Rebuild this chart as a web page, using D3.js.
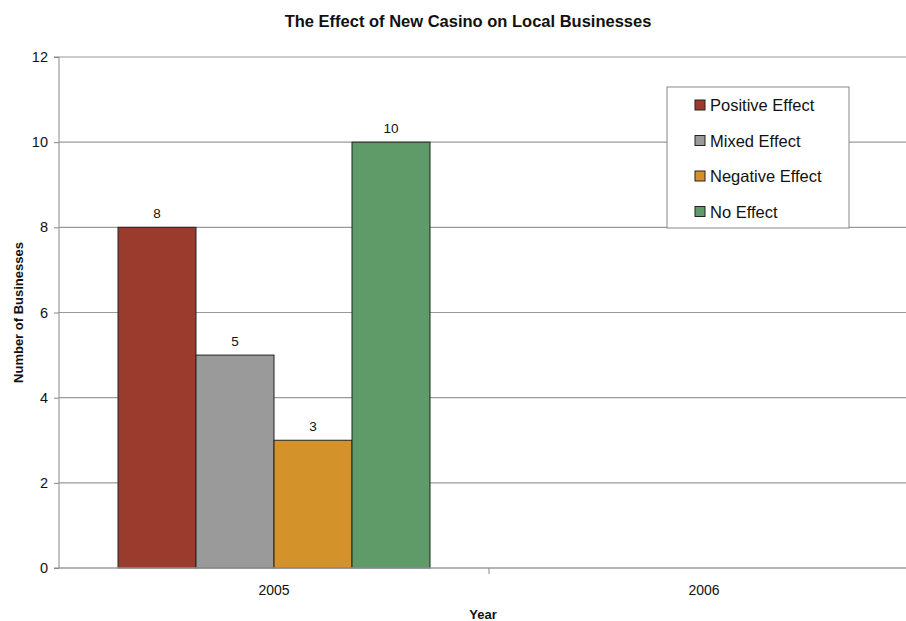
<!DOCTYPE html>
<html>
<head>
<meta charset="utf-8">
<script src="https://cdn.jsdelivr.net/npm/d3@7"></script>
<style>
  body { margin: 0; background: #fff; }
  text { font-family: "Liberation Sans", Arial, sans-serif; fill: #111; }
</style>
</head>
<body>
<svg id="chart"></svg>
<script>
// chart data
const years = ['2005', '2006']
const seriesNames = ['Positive Effect', 'Mixed Effect', 'Negative Effect', 'No Effect']
const seriesColors = ['#9a3b2e', '#9a9a9a', '#d4922a', '#5f9a69']
const values2005 = [8, 5, 3, 10]
const values2006 = [null, null, null, null]
const yTicks = [0, 2, 4, 6, 8, 10, 12]

const width = 906, height = 621
const plotLeft = 59, plotRight = 919, plotTop = 57, plotBottom = 568

const svg = d3.select('#chart').attr('width', width).attr('height', height)

const rows = years.map((yr, i) => ({ year: yr, vals: [values2005, values2006][i] }))

const x0 = d3.scaleBand().domain(years).range([plotLeft, plotRight])
const x1 = d3.scaleBand().domain(seriesNames)
  .range([59, x0.bandwidth() - 59])
const y = d3.scaleLinear().domain([0, 12]).range([plotBottom, plotTop])

// gridlines
svg.append('g').selectAll('line').data(yTicks.filter(d => d > 0)).enter().append('line')
  .attr('x1', plotLeft).attr('x2', width)
  .attr('y1', d => y(d)).attr('y2', d => y(d))
  .attr('stroke', '#9a9a9a').attr('stroke-width', 1.2)

// bars
const groups = svg.append('g').selectAll('g').data(rows).enter().append('g')
  .attr('transform', d => `translate(${x0(d.year)},0)`)

groups.selectAll('rect')
  .data(d => d.vals.map((v, i) => ({ name: seriesNames[i], v, c: seriesColors[i] })).filter(e => e.v != null))
  .enter().append('rect')
  .attr('x', d => x1(d.name))
  .attr('y', d => y(d.v))
  .attr('width', x1.bandwidth())
  .attr('height', d => y(0) - y(d.v))
  .attr('fill', d => d.c)
  .attr('stroke', '#222').attr('stroke-width', 1)

groups.selectAll('text.val')
  .data(d => d.vals.map((v, i) => ({ name: seriesNames[i], v })).filter(e => e.v != null))
  .enter().append('text')
  .attr('class', 'val')
  .attr('x', d => x1(d.name) + x1.bandwidth() / 2)
  .attr('y', d => y(d.v) - 9.5)
  .attr('text-anchor', 'middle')
  .style('font-size', '13.5px')
  .text(d => d.v)

// y axis
const yAxis = d3.axisLeft(y).tickValues(yTicks).tickSize(5).tickPadding(6)
const yAxisG = svg.append('g').attr('transform', `translate(${plotLeft},0)`).call(yAxis)
yAxisG.select('.domain').attr('stroke', '#888').attr('d', `M-5,${plotTop}H0V${plotBottom}H-5`)
yAxisG.selectAll('.tick line').attr('stroke', '#888')
yAxisG.selectAll('.tick text').style('font-size', '14.5px').attr('fill', '#111')
  .attr('font-family', null)

// x axis
const xAxisG = svg.append('g').attr('transform', `translate(0,${plotBottom})`)
xAxisG.append('line').attr('x1', plotLeft).attr('x2', width).attr('y1', 0).attr('y2', 0)
  .attr('stroke', '#9a9a9a').attr('stroke-width', 1.5)
xAxisG.selectAll('line.tk').data(years.slice(1)).enter().append('line')
  .attr('class', 'tk')
  .attr('x1', d => x0(d)).attr('x2', d => x0(d))
  .attr('y1', 0).attr('y2', 6).attr('stroke', '#888')
xAxisG.selectAll('text').data(years).enter().append('text')
  .attr('x', d => x0(d) + x0.bandwidth() / 2)
  .attr('y', 27)
  .attr('text-anchor', 'middle')
  .style('font-size', '14px')
  .text(d => d)

// titles
svg.append('text').attr('x', 468).attr('y', 26.5).attr('text-anchor', 'middle')
  .style('font-size', '16.5px').style('font-weight', 'bold')
  .text('The Effect of New Casino on Local Businesses')
svg.append('text').attr('x', 483).attr('y', 619).attr('text-anchor', 'middle')
  .style('font-size', '13px').style('font-weight', 'bold')
  .text('Year')
svg.append('text').attr('transform', `translate(23,${(plotTop + plotBottom) / 2}) rotate(-90)`)
  .attr('text-anchor', 'middle')
  .style('font-size', '13px').style('font-weight', 'bold')
  .text('Number of Businesses')

// legend
const legend = svg.append('g').attr('transform', 'translate(667,87)')
legend.append('rect').attr('width', 182).attr('height', 141)
  .attr('fill', '#fff').attr('stroke', '#888').attr('stroke-width', 1)
const li = legend.selectAll('g').data(seriesNames).enter().append('g')
  .attr('transform', (d, i) => `translate(28,${18 + i * 35.5})`)
li.append('rect').attr('x', 0).attr('y', -5).attr('width', 10).attr('height', 10)
  .attr('fill', (d, i) => seriesColors[i]).attr('stroke', '#222')
li.append('text').attr('x', 15).attr('y', 6)
  .style('font-size', '16.5px')
  .text(d => d)
</script>
</body>
</html>
